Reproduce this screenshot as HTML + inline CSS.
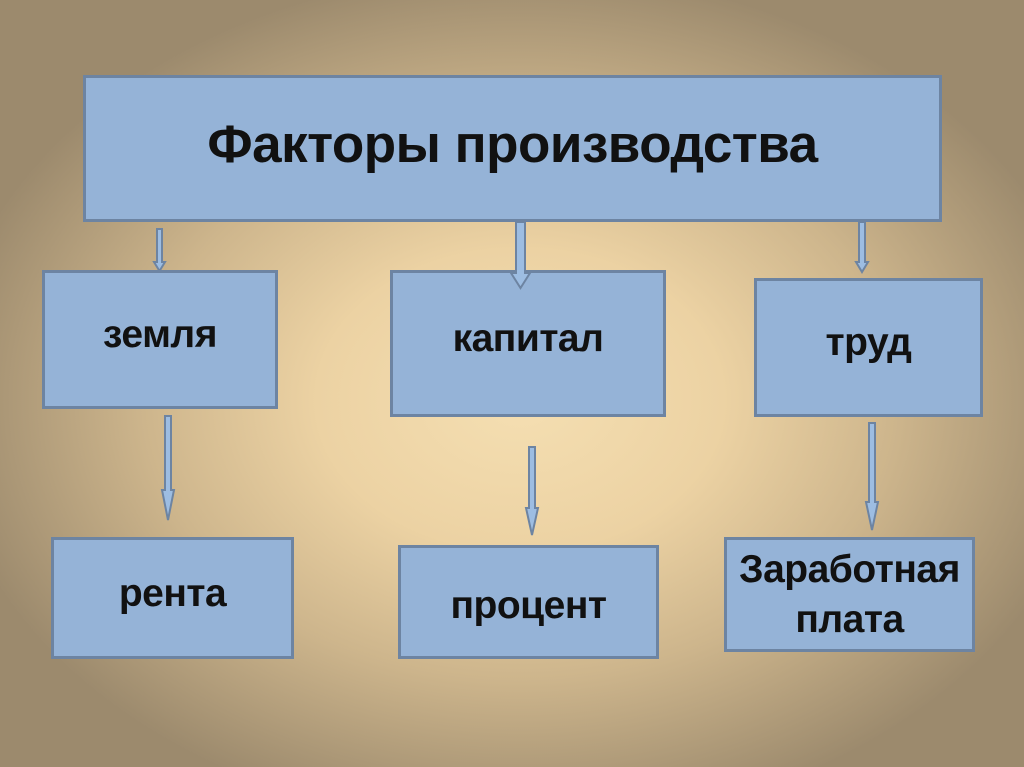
<!DOCTYPE html>
<html><head><meta charset="utf-8"><style>
body{margin:0;width:1024px;height:767px;overflow:hidden;
background:radial-gradient(ellipse 580px 430px at 520px 400px,#f5dfb2 0%,#ecd2a3 35%,#cdb58c 65%,#9c8a6d 100%);
font-family:"Liberation Sans","DejaVu Sans",sans-serif;}
.b{position:absolute;box-sizing:border-box;background:#95b3d7;border:3px solid #6d84a2;
display:flex;align-items:center;justify-content:center;text-align:center;font-weight:bold;color:#111;font-size:39px;line-height:50px;letter-spacing:-0.5px}
svg{position:absolute;left:0;top:0}
</style></head><body>
<div class="b" style="left:83px;top:75px;width:859px;height:147px;font-size:53px;padding-bottom:8px">Факторы производства</div>
<div class="b" style="left:42px;top:270px;width:236px;height:139px;padding-bottom:10px">земля</div>
<div class="b" style="left:390px;top:270px;width:276px;height:147px;padding-bottom:10px">капитал</div>
<div class="b" style="left:754px;top:278px;width:229px;height:139px;padding-bottom:10px">труд</div>
<div class="b" style="left:51px;top:537px;width:243px;height:122px;padding-bottom:8px">рента</div>
<div class="b" style="left:398px;top:545px;width:261px;height:114px;padding-top:8px">процент</div>
<div class="b" style="left:724px;top:537px;width:251px;height:115px">Заработная<br>плата</div>
<svg width="1024" height="767">
<g fill="#9dbde2" stroke="#6d84a2" stroke-width="2">
<polygon points="157,229 162,229 162,262 165,262 159.5,271 154,262 157,262"/>
<polygon points="516,222 525,222 525,273 530,273 520.5,288 511,273 516,273"/>
<polygon points="859,222 865,222 865,262 868,262 862,272 856,262 859,262"/>
<polygon points="165,416 171,416 171,490 174,490 168,520 162,490 165,490"/>
<polygon points="529,447 535,447 535,508 538,508 532,535 526,508 529,508"/>
<polygon points="869,423 875,423 875,502 878,502 872,530 866,502 869,502"/>
</g></svg>
</body></html>
